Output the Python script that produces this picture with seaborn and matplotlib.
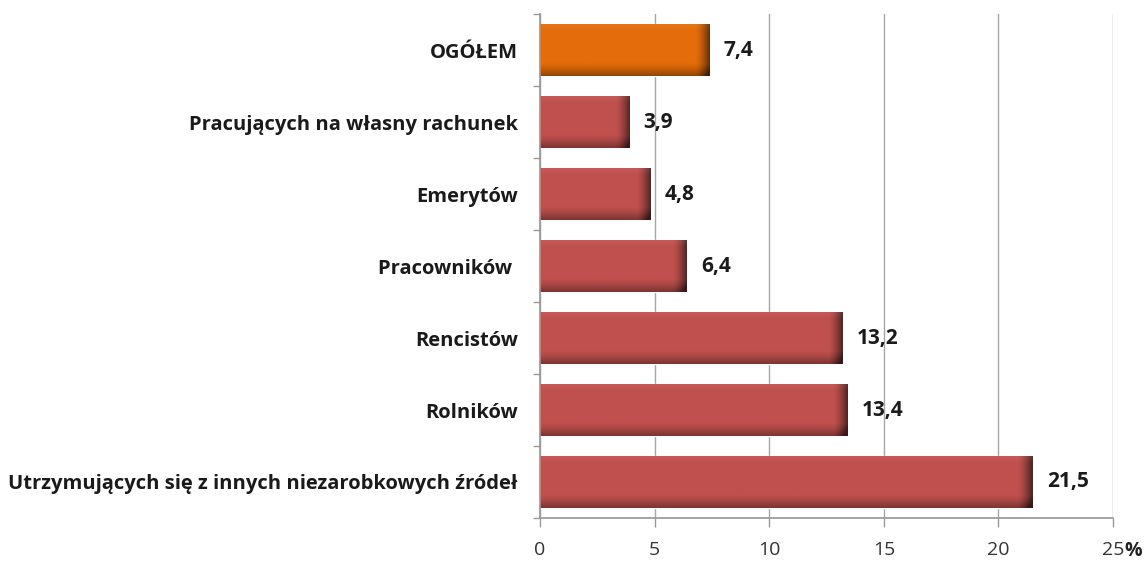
import numpy as np
import pandas as pd
import matplotlib
matplotlib.use("Agg")
import matplotlib.pyplot as plt
import seaborn as sns

categories = ["OGÓŁEM", "Pracujących na własny rachunek", "Emerytów", "Pracowników ",
              "Rencistów", "Rolników", "Utrzymujących się z innych niezarobkowych źródeł"]
values = [7.4, 3.9, 4.8, 6.4, 13.2, 13.4, 21.5]
value_labels = ["7,4", "3,9", "4,8", "6,4", "13,2", "13,4", "21,5"]
bar_colors = ["#E46C0A", "#C0504D", "#C0504D", "#C0504D", "#C0504D", "#C0504D", "#C0504D"]
x_ticks = [0, 5, 10, 15, 20, 25]
x_ticklabels = ["0", "5", "10", "15", "20", "25"]

sns.set_theme(style="white")
plt.rcParams["font.family"] = ["Open Sans", "DejaVu Sans"]

df = pd.DataFrame({"cat": categories, "val": values})
fig = plt.figure(figsize=(11.47, 5.62), dpi=100)
ax = fig.add_axes([0.4708, 0.0783, 0.4996, 0.8967])

sns.barplot(data=df, x="val", y="cat", hue="cat", palette=bar_colors, legend=False,
            width=0.72, ax=ax, orient="h", saturation=1)

ax.set_xlim(0, 25)
ax.set_ylim(6.5, -0.5)

# gradient shading on bars (darker at right end and bottom)
for patch, col in zip(ax.patches, bar_colors):
    x0, y0 = patch.get_x(), patch.get_y()
    w, h = patch.get_width(), patch.get_height()
    base = np.array(matplotlib.colors.to_rgb(col))
    nx, ny = 200, 60
    xs = np.linspace(0, 1, nx)
    ys = np.linspace(0, 1, ny)
    wpx = w * (573 / 25.0)
    edge = np.clip((xs * wpx - (wpx - 14)) / 14, 0, 1)
    vdark = np.clip((ys - 0.75) / 0.25, 0, 1)
    vtop = np.clip((0.12 - ys) / 0.12, 0, 1)
    f = 1 - 0.55 * edge[None, :] ** 1.5 - 0.35 * vdark[:, None] ** 1.3
    f = np.clip(f, 0.3, 1)
    img = base[None, None, :] * f[:, :, None]
    img = img + (1 - img) * 0.06 * vtop[:, None, None]
    im = ax.imshow(np.clip(img, 0, 1), extent=[x0, x0 + w, y0 + h, y0], aspect="auto",
                   zorder=patch.get_zorder() + 0.1, interpolation="bilinear")
    im.set_clip_path(patch)
ax.set_xlim(0, 25)
ax.set_ylim(6.5, -0.5)

for i, (v, lab) in enumerate(zip(values, value_labels)):
    ax.text(v + 0.62, i, lab, va="center", ha="left", fontsize=15,
            fontweight="bold", color="#1a1a1a")

ax.set_xticks(x_ticks)
ax.set_xticklabels(x_ticklabels, fontsize=14, color="#333333")
ax.annotate("%", xy=(25, 0), xycoords=ax.get_xaxis_transform(),
            xytext=(8, -16.5), textcoords="offset points", ha="left", va="top",
            fontsize=14, fontweight="bold", color="#222222")
ax.tick_params(axis="x", direction="out", length=6.5, width=1, color="#999999", pad=10,
               bottom=True)
ax.grid(axis="x", color="#a6a6a6", linewidth=1)
ax.set_axisbelow(True)

ax.set_yticks(range(len(categories)))
ax.set_yticklabels(categories, fontsize=14.5, fontweight="bold", color="#1a1a1a")
ax.tick_params(axis="y", length=0, pad=16)
ax.set_yticks(np.arange(-0.5, 7, 1), minor=True)
ax.tick_params(axis="y", which="minor", direction="out", length=5, color="#999999", left=True)

ax.set_xlabel("")
ax.set_ylabel("")
for s in ["top", "right"]:
    ax.spines[s].set_visible(False)
ax.spines["left"].set_color("#999999")
ax.spines["bottom"].set_color("#999999")

fig.savefig("out.png", dpi=100)
